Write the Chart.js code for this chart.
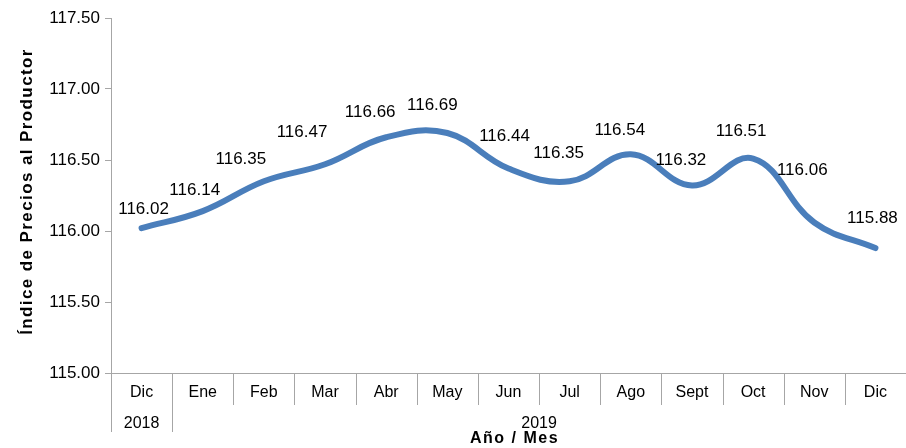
<!DOCTYPE html>
<html>
<head>
<meta charset="utf-8">
<script src="https://cdn.jsdelivr.net/npm/chart.js@4"></script>
<style>
  html, body { margin: 0; padding: 0; background: #fff; }
  #wrap { width: 906px; height: 448px; }
</style>
</head>
<body>
<div id="wrap"><canvas id="ippChart" width="906" height="448"></canvas></div>
<script>
// data
const months = ['Dic', 'Ene', 'Feb', 'Mar', 'Abr', 'May', 'Jun', 'Jul', 'Ago', 'Sept', 'Oct', 'Nov', 'Dic'];
const yearLabels = ['2018', '2019'];
const yearStart = [0, 1];
const yearEnd = [0, 12];
const indexValues = [116.02, 116.14, 116.35, 116.47, 116.66, 116.69, 116.44, 116.35, 116.54, 116.32, 116.51, 116.06, 115.88];
const yTicks = [115.00, 115.50, 116.00, 116.50, 117.00, 117.50];

// label nudges (px) relative to each point, as placed in the original
const labelDx = [2, -8, -23, -23, -16, -15, -4, -11, -11, -11, -12, -12, -3];
const labelDy = [-19, -21, -22, -32, -25, -28, -32, -28, -24, -25, -27, -52, -30];

const AXIS_GRAY = '#a6a6a6';
const SANS = '"Liberation Sans", Arial, sans-serif';

// draws the point labels
const valueLabels = {
    id: 'valueLabels',
    afterDatasetsDraw(chart) {
        const ctx = chart.ctx;
        const meta = chart.getDatasetMeta(0);
        ctx.save();
        ctx.font = '17px ' + SANS;
        ctx.fillStyle = '#000';
        ctx.textAlign = 'center';
        ctx.textBaseline = 'middle';
        meta.data.forEach((pt, i) => {
            ctx.fillText(indexValues[i].toFixed(2), pt.x + labelDx[i], pt.y + labelDy[i]);
        });
        ctx.restore();
    }
};

// two level category axis: months, years, separators, and both titles
const groupedAxis = {
    id: 'groupedAxis',
    afterDraw(chart) {
        const ctx = chart.ctx;
        const x = chart.scales.x;
        const y = chart.scales.y;
        const base = x.top;
        const step = x.getPixelForValue(1) - x.getPixelForValue(0);
        ctx.save();
        ctx.strokeStyle = AXIS_GRAY;
        ctx.lineWidth = 1;

        // month separators
        for (let i = 0; i <= months.length; i++) {
            const px = Math.round(x.getPixelForValue(0) - step / 2 + i * step) + 0.5;
            const isYearEdge = yearStart.includes(i);
            ctx.beginPath();
            ctx.moveTo(px, base);
            ctx.lineTo(px, base + (isYearEdge ? 59 : 32));
            ctx.stroke();
        }

        ctx.fillStyle = '#000';
        ctx.textAlign = 'center';
        ctx.textBaseline = 'middle';
        ctx.font = '16px ' + SANS;
        months.forEach((m, i) => {
            ctx.fillText(m, x.getPixelForValue(i), base + 20);
        });

        yearLabels.forEach((yr, k) => {
            const cx = (x.getPixelForValue(yearStart[k]) + x.getPixelForValue(yearEnd[k])) / 2;
            ctx.fillText(yr, cx, base + 51);
        });

        ctx.save();
        ctx.font = 'bold 16px ' + SANS;
        ctx.letterSpacing = '1.5px';
        ctx.fillText('Año / Mes', (x.left + x.right) / 2 + 6, base + 66);
        ctx.restore();

        // y title, rotated, with the loose spacing of the original
        ctx.save();
        ctx.translate(27, (y.top + y.bottom) / 2 - 4);
        ctx.rotate(-Math.PI / 2);
        ctx.font = 'bold 17px ' + SANS;
        ctx.letterSpacing = '1.4px';
        ctx.fillText('Índice de Precios al Productor', 0, 0);
        ctx.restore();

        ctx.restore();
    }
};

new Chart(document.getElementById('ippChart'), {
    type: 'line',
    data: {
        labels: months,
        datasets: [{
            data: indexValues,
            borderColor: '#4a7ebb',
            borderWidth: 6,
            borderCapStyle: 'round',
            pointRadius: 0,
            tension: 0.4,
            fill: false
        }]
    },
    options: {
        responsive: false,
        animation: false,
        layout: { padding: { top: 18, right: 0, bottom: 0, left: 0 } },
        plugins: {
            legend: { display: false },
            tooltip: { enabled: false }
        },
        scales: {
            x: {
                offset: true,
                grid: { display: false },
                border: { color: AXIS_GRAY },
                ticks: { display: false },
                afterFit(scale) { scale.height = 75; }
            },
            y: {
                min: yTicks[0],
                max: yTicks[yTicks.length - 1],
                afterBuildTicks(scale) { scale.ticks = yTicks.map(v => ({ value: v })); },
                grid: { drawOnChartArea: false, tickLength: 6, color: AXIS_GRAY },
                border: { color: AXIS_GRAY },
                ticks: {
                    padding: 5,
                    color: '#000',
                    font: { family: SANS, size: 17 },
                    callback: v => v.toFixed(2)
                },
                afterFit(scale) { scale.width = 111; }
            }
        }
    },
    plugins: [valueLabels, groupedAxis]
});
</script>
</body>
</html>
